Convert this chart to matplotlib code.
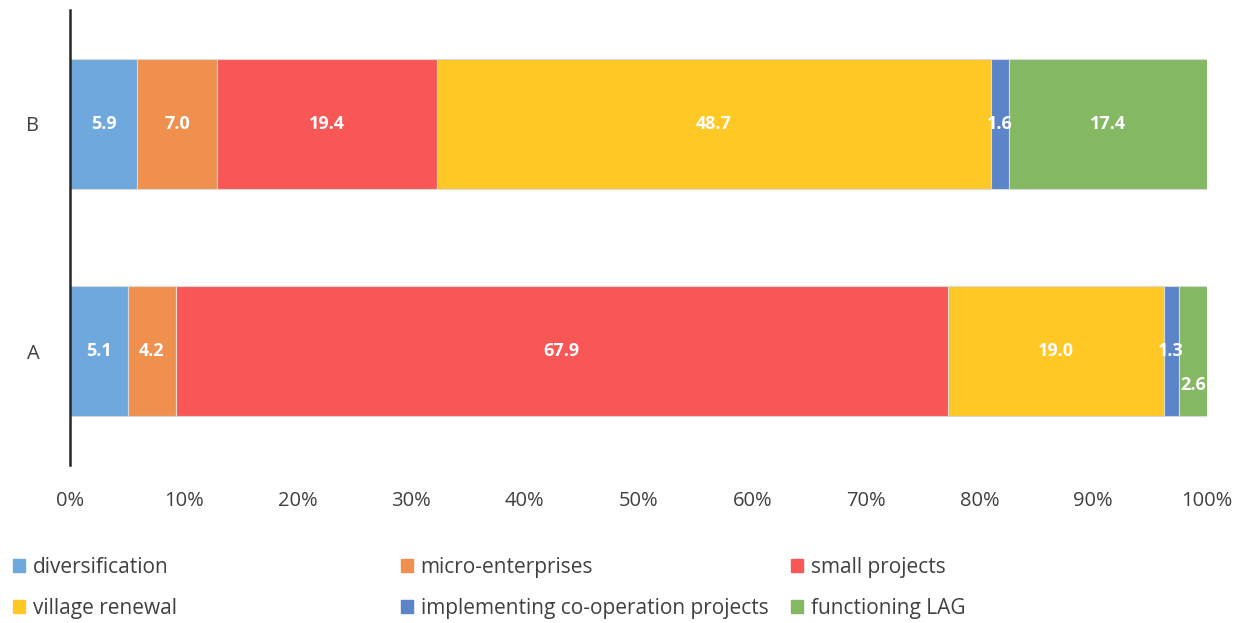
import numpy as np
import matplotlib.pyplot as plt
from matplotlib.patches import Patch

plt.rcParams['font.family'] = ['Open Sans', 'DejaVu Sans']

# data
groups = ['A', 'B']
series = ['diversification', 'micro-enterprises', 'small projects',
          'village renewal', 'implementing co-operation projects', 'functioning LAG']
vals_A = [5.1, 4.2, 67.9, 19.0, 1.3, 2.6]
vals_B = [5.9, 7.0, 19.4, 48.7, 1.6, 17.4]
colors = ['#6FA8DC', '#F0904F', '#F95656', '#FFC825', '#5B84C9', '#84B862']

data = np.array([vals_A, vals_B])  # rows = groups
ypos = np.arange(len(groups))

fig = plt.figure(figsize=(12.44, 6.23), dpi=100)
ax = fig.add_axes([70/1244, 1-465/623, (1207-70)/1244, 455/623])

left = np.zeros(len(groups))
for j, name in enumerate(series):
    w = data[:, j]
    ax.barh(ypos, w, left=left, height=0.57, color=colors[j],
            edgecolor='#d9d9d9', linewidth=0.8, label=name)
    for i in range(len(groups)):
        dy = 0
        # Excel nudged the overlapping tiny label down
        if groups[i] == 'A' and j == 5:
            dy = -0.15
        ax.text(left[i] + w[i]/2, ypos[i] + dy, f'{w[i]:.1f}', ha='center', va='center',
                color='white', fontsize=13, fontweight='bold', clip_on=False)
    left += w

ax.set_xlim(0, 100)
ax.set_ylim(-0.5, 1.5)
ax.set_yticks(ypos)
ax.set_yticklabels(groups)
ax.set_xticks(np.arange(0, 101, 10))
ax.set_xticklabels([f'{t}%' for t in range(0, 101, 10)])
ax.tick_params(length=0, labelsize=14.5, colors='#404040')
ax.tick_params(axis='y', pad=22)
ax.tick_params(axis='x', pad=19)
for s in ['top', 'right', 'bottom']:
    ax.spines[s].set_visible(False)
ax.spines['left'].set_color('#262626')
ax.spines['left'].set_linewidth(1.8)

# legend: three columns placed like Excel
cols = [[0, 3], [1, 4], [2, 5]]
xs = [-6/1244, 382/1244, 772/1244]
for c, x in zip(cols, xs):
    handles = [Patch(color=colors[k], label=series[k]) for k in c]
    fig.legend(handles=handles, loc='upper left', bbox_to_anchor=(x, 1-538/623),
               frameon=False, handlelength=0.6, handleheight=0.6, handletextpad=0.35,
               labelspacing=0.95, fontsize=15, labelcolor='#404040')

fig.savefig('out.png', dpi=100)
